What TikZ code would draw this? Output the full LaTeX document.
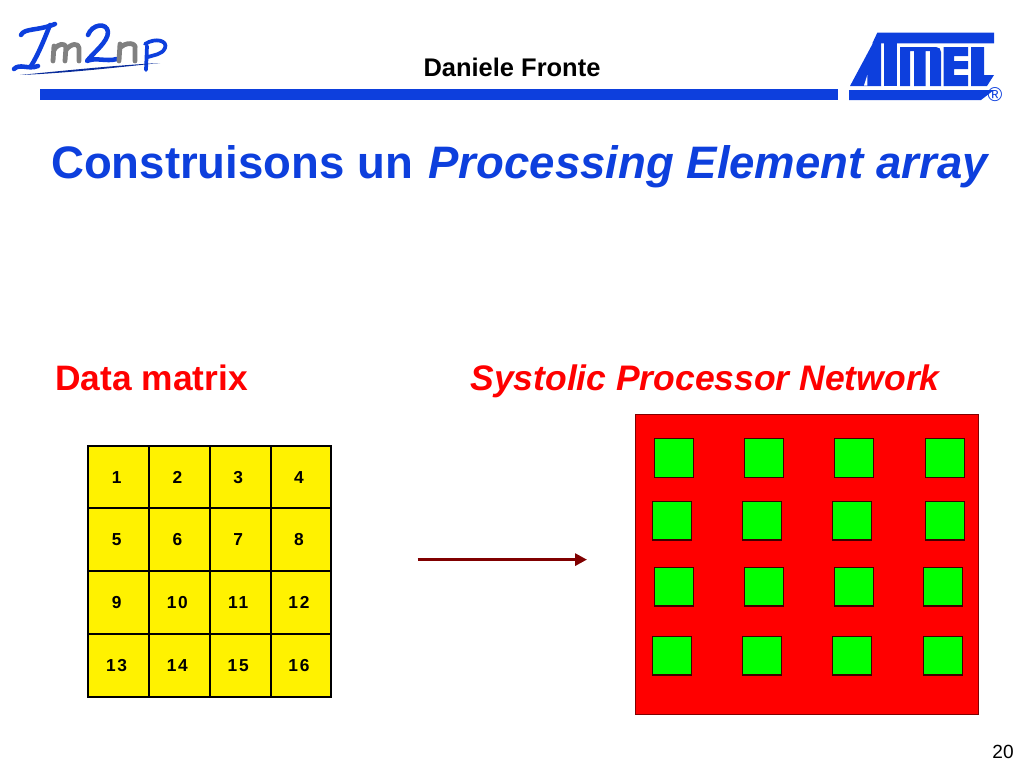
\documentclass[tikz,border=0pt]{standalone}
\usepackage{fontspec}
\usetikzlibrary{positioning,arrows.meta}
\setmainfont{Liberation Sans}
\newfontfamily\cellfont[LetterSpace=10]{Liberation Sans}
\definecolor{slideblue}{HTML}{0D3FDD}
\definecolor{logogrey}{HTML}{808080}
\definecolor{arrowred}{HTML}{800000}
\definecolor{peGreen}{HTML}{00FF00}
\tikzstyle{cell} = [draw=black, line width=1.6pt, fill=yellow, outer sep=0pt, inner sep=0pt,
    minimum width=45.6pt, minimum height=47.06pt, font=\cellfont\bfseries\fontsize{13}{15}\selectfont,
    text height=9.3pt, text depth=0pt, execute at end node={\hspace*{3pt}}]
\tikzstyle{pe} = [draw=black!75!red, line width=0.8pt, fill=peGreen, outer sep=0pt, inner sep=0pt,
    minimum width=29.25pt, minimum height=28.8pt]
\tikzstyle{redhead} = [text=red, anchor=base, inner sep=0pt]
\tikzstyle{logoblue} = [draw=slideblue, line width=3.4pt, line cap=round, line join=round]
\tikzstyle{logogray} = [draw=logogrey, line width=3.6pt, line cap=round, line join=round]
\tikzstyle{atmel} = [fill=slideblue, draw=none]
\begin{document}
\begin{tikzpicture}[x=0.75pt, y=-0.75pt]
\useasboundingbox (0,0) rectangle (1024,768);
%header
\fill[slideblue] (40,89) rectangle (838,100);
\node[anchor=base, inner sep=0pt, font=\bfseries\fontsize{19.1}{22}\selectfont] (speaker) at (512,76.5) {Daniele Fronte};
\node[anchor=base, inner sep=0pt, text=slideblue, font=\bfseries\fontsize{34.15}{40}\selectfont] (title) at (520.5,178) {Construisons un\hspace{2.2pt} \textit{Processing Element array}};
%logo left
\draw[logoblue] (21,35) .. controls (24,28) and (38,31) .. (55,24);
\draw[logoblue] (50,25) .. controls (44,40) and (38,55) .. (31,66);
\draw[logoblue] (14,69) .. controls (20,63) and (28,70) .. (38,66);
\draw[logogray] (54,46) -- (53,61) (54,50) .. controls (58,43) and (65,43) .. (66,47) -- (65,61) (66,50) .. controls (71,43) and (79,43) .. (79,48) -- (79,61);
\draw[logoblue] (88,35) .. controls (92,24) and (107,22) .. (108,32) .. controls (108,42) and (94,52) .. (87,61) .. controls (96,57) and (106,62) .. (117,59);
\draw[logogray] (120,44) -- (119,61) (120,48) .. controls (125,42) and (137,42) .. (135,49) -- (135,61);
\draw[logoblue, line width=2.8pt] (147,46) -- (146,70) (145,44) .. controls (156,37) and (168,41) .. (165,48) .. controls (162,55) and (153,55) .. (148,57);
\fill[slideblue!70!black] (20,75) .. controls (70,70) and (120,65) .. (160,63) .. controls (120,67) and (70,73) .. (20,75) -- cycle;
%logo right
\fill[atmel] (877.3,32.7) -- (994,32.7) -- (994,43.3) -- (872.3,43.3) -- cycle;
\fill[atmel] (873,43) -- (881,43) -- (881,86) -- (850,86) -- cycle;
\fill[white] (864,85.5) -- (867.3,75) -- (867.3,85.5) -- cycle;
\fill[atmel] (883.5,43) rectangle (896.5,86);
\fill[atmel] (900,47) -- (936,47) .. controls (939,47) and (941,49) .. (941,52) -- (941,86) -- (930,86) -- (930,51) -- (925.5,51) -- (925.5,86) -- (914,86) -- (914,51) -- (910,51) -- (910,86) -- (900,86) -- cycle;
\fill[atmel] (943.5,47) -- (968,47) -- (968,56) -- (954,56) -- (954,61) -- (968,61) -- (968,69) -- (954,69) -- (954,75) -- (968,75) -- (968,86) -- (943.5,86) -- cycle;
\fill[atmel] (971,47) -- (984,47) -- (984,75) -- (994,75) -- (987,86) -- (971,86) -- cycle;
\fill[atmel] (849,90) -- (994,90) -- (981,100) -- (849,100) -- cycle;
\node[text=slideblue, font=\fontsize{15}{16}\selectfont, inner sep=0pt] (regmark) at (995,94.5) {\textregistered};
%headings
\node[redhead, anchor=base west, font=\bfseries\fontsize{26.5}{30}\selectfont] (datahead) at (55,390.5) {Data matrix};
\node[redhead, font=\bfseries\itshape\fontsize{26.6}{30}\selectfont] (nethead) at (705,390.5) {Systolic Processor Network};
%data matrix
\node[cell] (d1) at (118.6,477) {1};
\node[cell, right=0pt of d1] (d2) {2};
\node[cell, right=0pt of d2] (d3) {3};
\node[cell, right=0pt of d3] (d4) {4};
\node[cell, below=0pt of d1] (d5) {5};
\node[cell, right=0pt of d5] (d6) {6};
\node[cell, right=0pt of d6] (d7) {7};
\node[cell, right=0pt of d7] (d8) {8};
\node[cell, below=0pt of d5] (d9) {9};
\node[cell, right=0pt of d9] (d10) {10};
\node[cell, right=0pt of d10] (d11) {11};
\node[cell, right=0pt of d11] (d12) {12};
\node[cell, below=0pt of d9] (d13) {13};
\node[cell, right=0pt of d13] (d14) {14};
\node[cell, right=0pt of d14] (d15) {15};
\node[cell, right=0pt of d15] (d16) {16};
%arrow
\coordinate (flowstart) at (417.5,559.6);
\coordinate (flowend) at (587,559.6);
\draw[arrowred, line width=2.8pt, -{Triangle[length=9pt,width=9pt]}] (flowstart) -- (flowend);
%processor network
\node[draw=black!50!red, line width=0.8pt, fill=red, outer sep=0pt, minimum width=256.9pt, minimum height=224.8pt] (net) at (807,564.2) {};
%begin row 1
\node[pe] (pe1) at (673.8,458) {};
\node[pe] (pe2) at (763.7,458) {};
\node[pe] (pe3) at (854.3,458) {};
\node[pe] (pe4) at (944.8,458) {};
%begin row 2
\node[pe] (pe5) at (672,520.8) {};
\node[pe] (pe6) at (761.8,520.8) {};
\node[pe] (pe7) at (852.3,520.8) {};
\node[pe] (pe8) at (944.8,520.8) {};
%begin row 3
\node[pe] (pe9) at (673.8,586.8) {};
\node[pe] (pe10) at (763.7,586.8) {};
\node[pe] (pe11) at (854.3,586.8) {};
\node[pe] (pe12) at (943.2,586.8) {};
%begin row 4
\node[pe] (pe13) at (672,655.8) {};
\node[pe] (pe14) at (761.8,655.8) {};
\node[pe] (pe15) at (852.3,655.8) {};
\node[pe] (pe16) at (943.2,655.8) {};
%page number
\node[anchor=base, inner sep=0pt, font=\fontsize{14.3}{16}\selectfont] (pageno) at (1003,758) {20};
\end{tikzpicture}
\end{document}
